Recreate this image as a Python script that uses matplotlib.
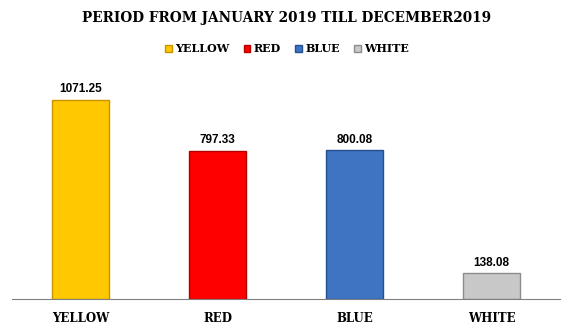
import matplotlib.pyplot as plt
from matplotlib.patches import Patch

categories = ['YELLOW', 'RED', 'BLUE', 'WHITE']
values = [1071.25, 797.33, 800.08, 138.08]
colors = ['#FFC800', '#FF0000', '#3E74C2', '#C8C8C8']
edges = ['#C89200', '#B00000', '#24508F', '#8C8C8C']

fig = plt.figure(figsize=(5.74, 3.32), dpi=100)
ax = fig.add_axes([12 / 574, 1 - 299 / 332, 548 / 574, 229 / 332])

x = range(len(categories))
bars = ax.bar(x, values, width=0.41, color=colors, edgecolor=edges, linewidth=1.0)

for b, v in zip(bars, values):
    ax.text(b.get_x() + b.get_width() / 2, v + 25, f'{v:.2f}', ha='center', va='bottom',
            fontsize=8.5, fontweight='bold', family='Liberation Sans')

ax.set_xlim(-0.5, 3.5)
ax.set_ylim(0, 1232)
ax.set_yticks([])
ax.set_xticks(list(x))
ax.set_xticklabels(categories, fontsize=8.5, fontweight='bold', family='DejaVu Serif')
ax.tick_params(axis='x', length=0, pad=9)
for s in ['top', 'left', 'right']:
    ax.spines[s].set_visible(False)
ax.spines['bottom'].set_color('#808080')

# title
fig.text(0.5, 1 - 18 / 332, 'PERIOD FROM JANUARY 2019 TILL DECEMBER2019', ha='center', va='center',
         fontsize=9.8, fontweight='heavy', family='DejaVu Serif')

handles = [Patch(facecolor=c, edgecolor=e) for c, e in zip(colors, edges)]
fig.legend(handles, categories, loc='center', bbox_to_anchor=(0.5, 1 - 49 / 332), ncol=4,
           frameon=False, handlelength=0.6, handleheight=0.6, handletextpad=0.3, columnspacing=1.3,
           prop={'family': 'DejaVu Serif', 'weight': 'bold', 'size': 8})

fig.savefig('out.png', dpi=100)
